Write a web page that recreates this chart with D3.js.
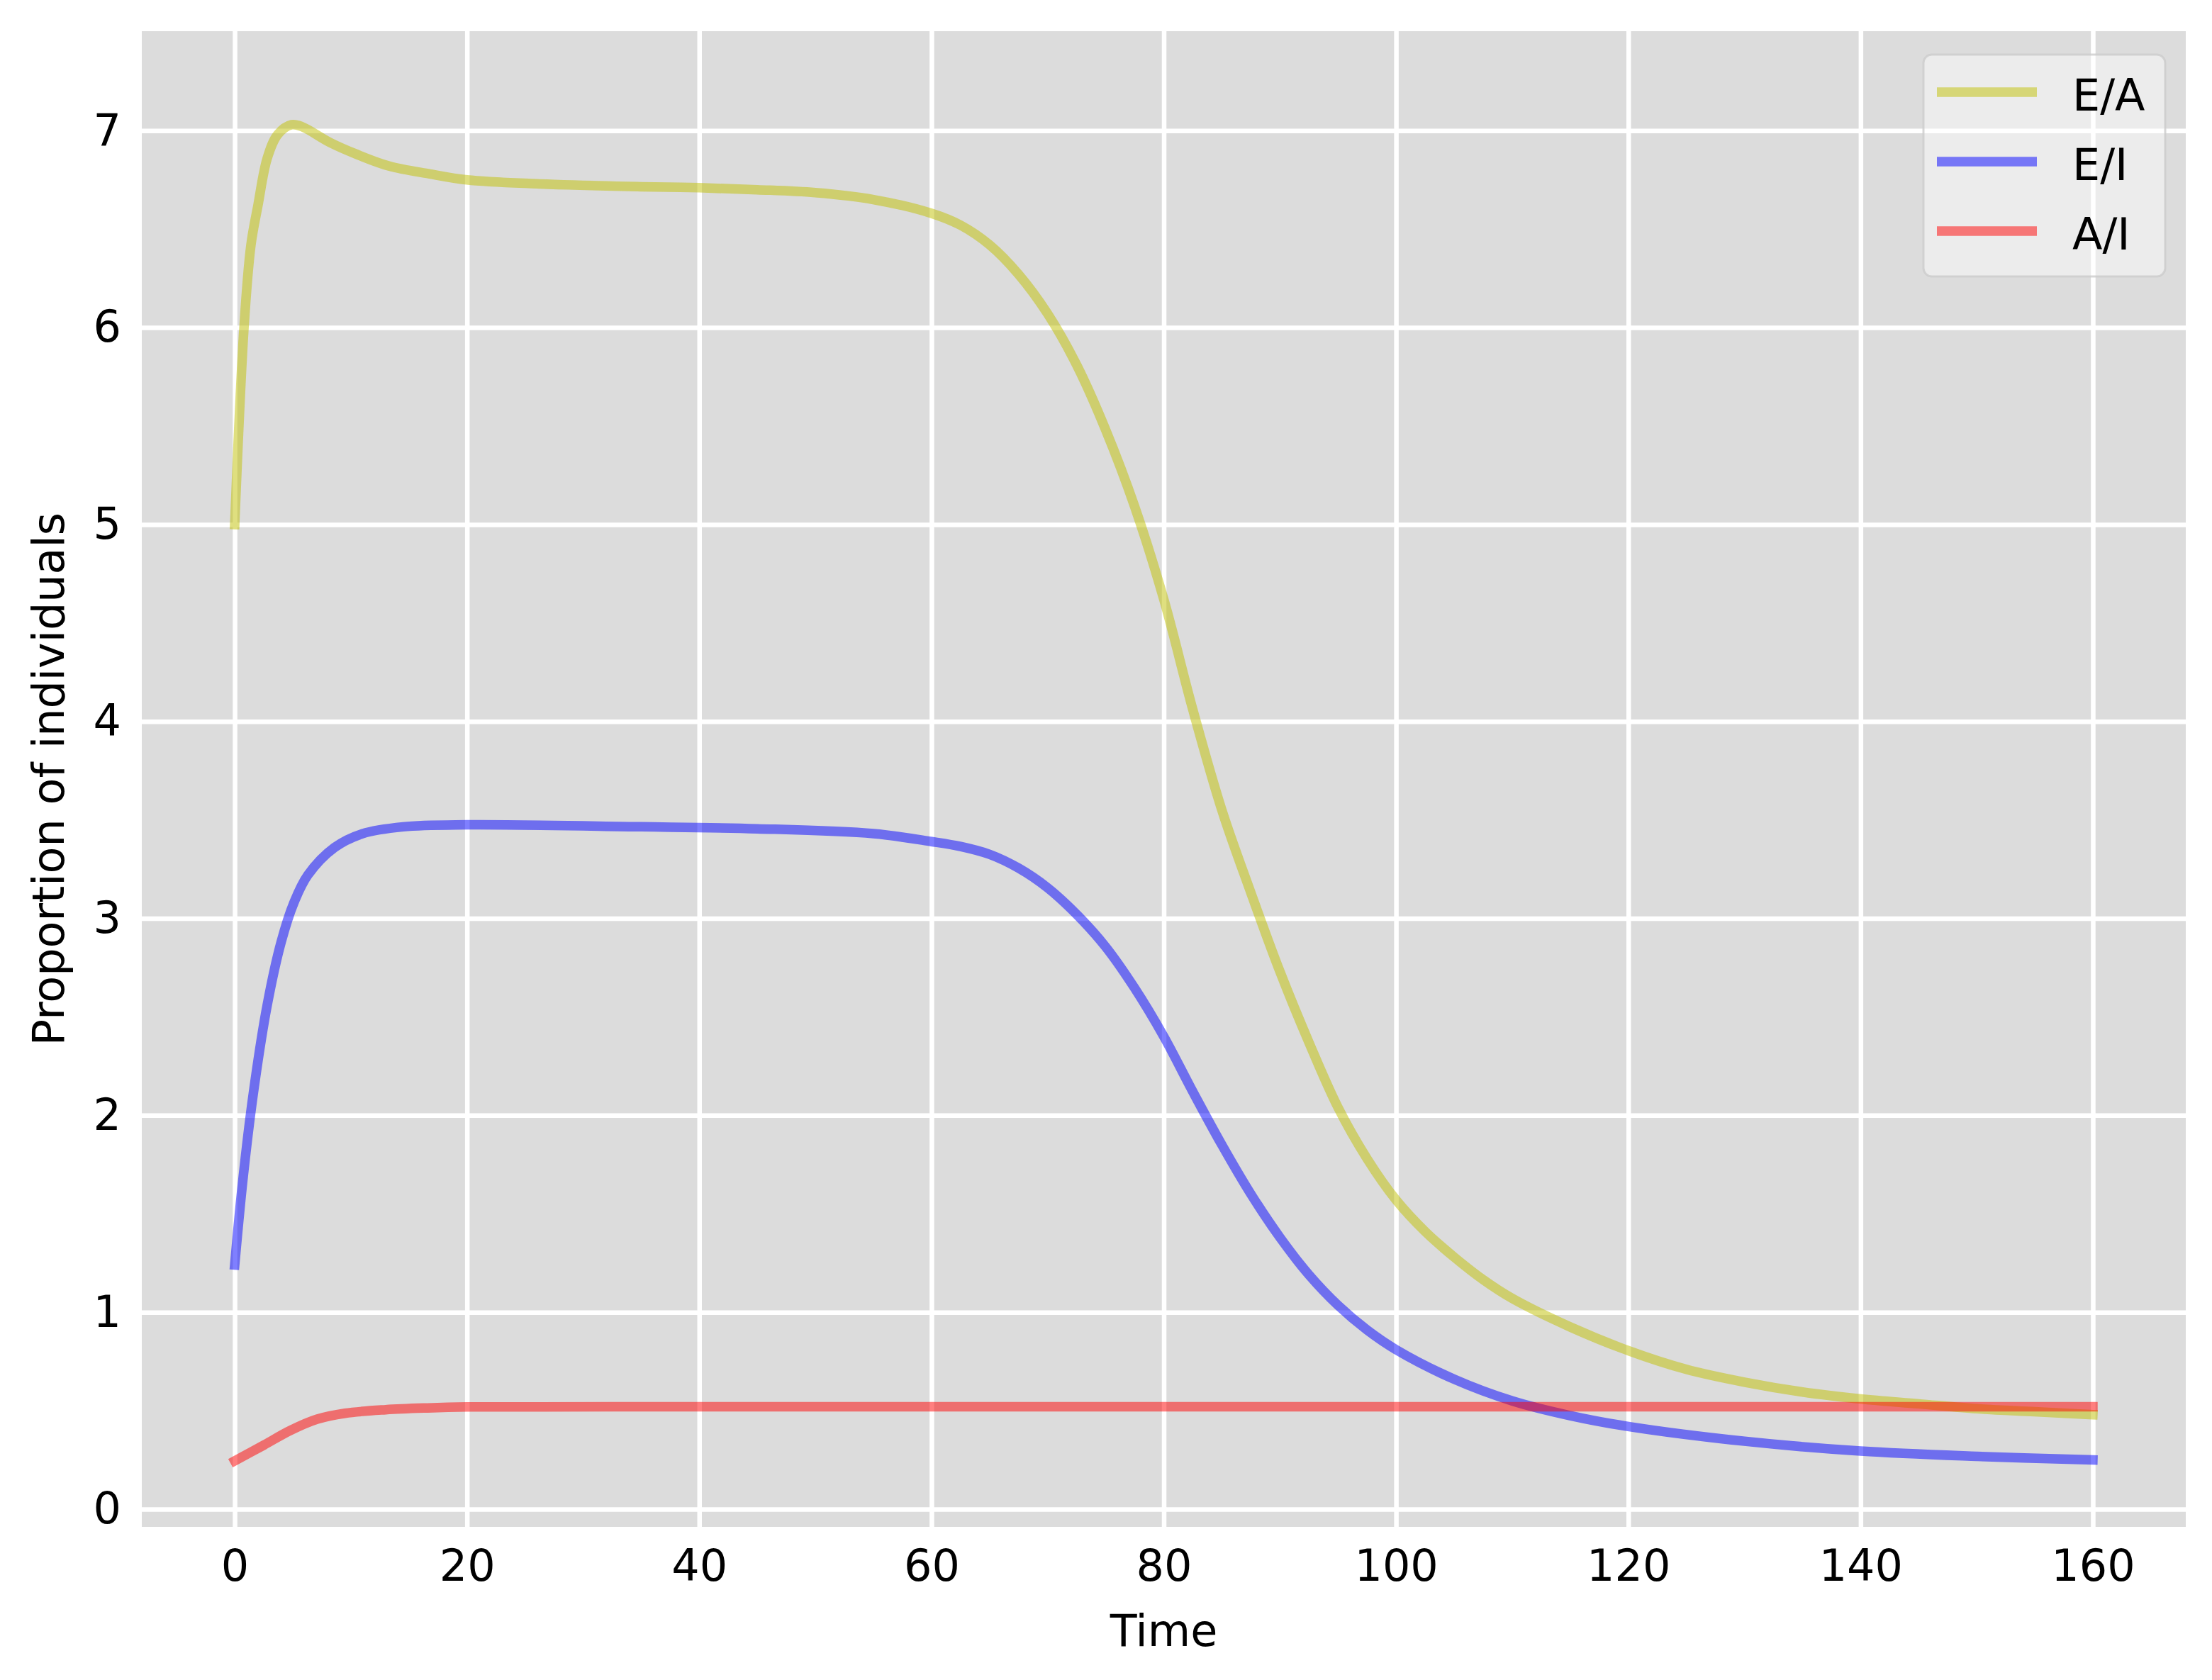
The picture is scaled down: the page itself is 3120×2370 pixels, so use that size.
<!DOCTYPE html>
<html>
<head>
<meta charset="utf-8">
<script src="https://cdn.jsdelivr.net/npm/d3@7"></script>
<style>
  body { margin: 0; background: #ffffff; }
  text { font-family: "DejaVu Sans", sans-serif; fill: #000000; }
  .tick text { font-size: 62px; }
  .label { font-size: 62px; }
  .legend-text { font-size: 62px; }
</style>
</head>
<body>
<div class="svg-container"></div>
<script>
var width = 3120;
var height = 2370;

var padding = { "top": 44,
                "right": 37,
                "bottom": 216,
                "left": 200 };

var innerW = width - padding.left - padding.right;
var innerH = height - padding.top - padding.bottom;

// series
var eaTime = [0, 0.8, 1.4, 2.0, 2.8, 3.7, 4.9, 5.8, 8.2, 10.5, 13.3, 16.8, 20, 26, 35, 40, 45, 50, 55, 60,
              62.5, 65, 67.5, 70, 72.5, 75, 77.5, 80, 82.5, 85, 87.5, 90, 92.5, 95, 97.5, 100,
              102.5, 105, 107.5, 110, 115, 120, 125, 130, 135, 140, 145, 150, 155, 160];
var eaValues = [5.0, 6.0, 6.42, 6.62, 6.86, 6.98, 7.03, 7.02, 6.94, 6.88, 6.82, 6.78, 6.75, 6.73, 6.715, 6.71, 6.70, 6.685, 6.65, 6.58,
                6.52, 6.42, 6.27, 6.07, 5.81, 5.48, 5.09, 4.62, 4.06, 3.55, 3.13, 2.73, 2.37, 2.04, 1.78, 1.57,
                1.41, 1.28, 1.165, 1.07, 0.925, 0.805, 0.71, 0.645, 0.595, 0.56, 0.535, 0.51, 0.495, 0.48];

var eiTime = [0, 0.7, 1.6, 2.8, 4.0, 5.1, 6.3, 8.6, 11, 14.5, 20, 35, 45, 55, 60, 62.5, 65, 67.5, 70,
              72.5, 75, 77.5, 80, 82.5, 85, 87.5, 90, 92.5, 95, 97.5, 100, 105, 110, 115, 120,
              130, 140, 150, 160];
var eiValues = [1.24, 1.67, 2.11, 2.56, 2.88, 3.08, 3.22, 3.36, 3.43, 3.465, 3.475, 3.465, 3.455, 3.43, 3.39, 3.365, 3.325, 3.255, 3.155,
                3.02, 2.855, 2.645, 2.40, 2.12, 1.85, 1.60, 1.38, 1.19, 1.035, 0.91, 0.81, 0.66, 0.55, 0.475, 0.42,
                0.345, 0.295, 0.268, 0.25];

var aiTime = [0, 2.5, 4.8, 7.1, 9.5, 13, 16.5, 20, 40, 60, 80, 100, 120, 140, 160];
var aiValues = [0.245, 0.325, 0.40, 0.457, 0.487, 0.505, 0.514, 0.519, 0.52, 0.52, 0.52, 0.52, 0.52, 0.52, 0.52];

var seriesNames = ["E/A", "E/I", "A/I"];
var seriesColors = ["#bfbf00", "#0000ff", "#ff0000"];

var xTicks = [0, 20, 40, 60, 80, 100, 120, 140, 160];
var yTicks = [0, 1, 2, 3, 4, 5, 6, 7];

// svg canvas
var svg = d3.select(".svg-container")
              .append("svg")
              .attr("width", width)
              .attr("height", height)
              .append("g")
              .attr("transform", "translate(" + padding.left + "," + padding.top + ")");

var scaleX = d3.scaleLinear()
            .domain([-8, 168])
            .range([0, innerW]);

var scaleY = d3.scaleLinear()
            .domain([-0.09, 7.505])
            .range([innerH, 0]);

// plot background
svg.append("rect")
    .attr("width", innerW)
    .attr("height", innerH)
    .attr("fill", "#dcdcdc");

// axes double as the white grid
var gx = svg.append("g")
    .attr("transform", "translate(0," + innerH + ")")
    .call(d3.axisBottom(scaleX).tickValues(xTicks).tickSize(-innerH).tickPadding(32));

var gy = svg.append("g")
    .call(d3.axisLeft(scaleY).tickValues(yTicks).tickSize(-innerW).tickPadding(29));

[gx, gy].forEach(function(g) {
    g.select(".domain").remove();
    g.selectAll(".tick line").attr("stroke", "#ffffff").attr("stroke-width", 6.5);
    g.selectAll(".tick text").attr("fill", "#000000");
    g.attr("font-size", null).attr("font-family", null);
});

var series = [
    { name: seriesNames[0], color: seriesColors[0], points: d3.zip(eaTime, eaValues) },
    { name: seriesNames[1], color: seriesColors[1], points: d3.zip(eiTime, eiValues) },
    { name: seriesNames[2], color: seriesColors[2], points: d3.zip(aiTime, aiValues) }
];

var line = d3.line()
    .curve(d3.curveCatmullRom.alpha(0.5))
    .x(function(d) { return scaleX(d[0]); })
    .y(function(d) { return scaleY(d[1]); });

svg.append("g")
    .selectAll("path")
    .data(series)
    .enter()
    .append("path")
    .attr("fill", "none")
    .attr("stroke", function(d) { return d.color; })
    .attr("stroke-opacity", 0.5)
    .attr("stroke-width", 13.5)
    .attr("stroke-linecap", "square")
    .attr("stroke-linejoin", "round")
    .attr("d", function(d) { return line(d.points); });

// legend
var legend = svg.append("g")
    .attr("transform", "translate(" + (2713 - padding.left) + "," + (77 - padding.top) + ")");

legend.append("rect")
    .attr("width", 341)
    .attr("height", 313)
    .attr("rx", 12)
    .attr("fill", "#ffffff")
    .attr("fill-opacity", 0.45)
    .attr("stroke", "#cccccc")
    .attr("stroke-opacity", 0.8)
    .attr("stroke-width", 3);

var rows = legend.selectAll(".row")
    .data(series)
    .enter()
    .append("g")
    .attr("class", "row")
    .attr("transform", function(d, i) { return "translate(0," + (53 + i * 98) + ")"; });

rows.append("line")
    .attr("x1", 19)
    .attr("x2", 160)
    .attr("stroke", function(d) { return d.color; })
    .attr("stroke-opacity", 0.5)
    .attr("stroke-width", 13.5);

rows.append("text")
    .attr("class", "legend-text")
    .attr("x", 210)
    .attr("y", 26)
    .text(function(d) { return d.name; });

// axis labels
svg.append("text")
    .attr("class", "label")
    .attr("x", innerW / 2)
    .attr("y", 2322 - padding.top)
    .attr("text-anchor", "middle")
    .text("Time");

svg.append("text")
    .attr("class", "label")
    .attr("transform", "rotate(-90)")
    .attr("x", -innerH / 2)
    .attr("y", 90 - padding.left)
    .attr("text-anchor", "middle")
    .text("Proportion of individuals");
</script>
</body>
</html>
